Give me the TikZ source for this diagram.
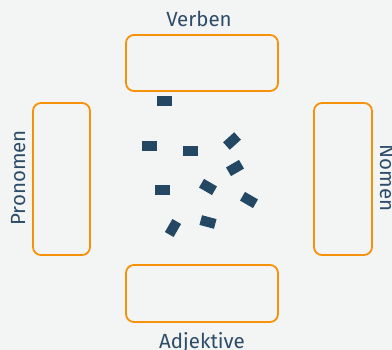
\documentclass[tikz,border=0pt]{standalone}
\usepackage{fontspec}
\setmainfont{Fira Sans}
\usetikzlibrary{positioning}
\definecolor{bgcol}{RGB}{243,244,244}
\definecolor{boxorange}{RGB}{246,146,10}
\definecolor{tilecol}{RGB}{36,72,99}
\definecolor{textcol}{RGB}{45,76,104}
\tikzset{
 box/.style
  = {rectangle, draw=boxorange, line width=1.8pt, rounded corners=8pt,
     inner sep=0pt},
 lbl/.style
  = {text=textcol, font=\fontsize{20.5}{22}\selectfont, inner sep=0pt, anchor=base},
 tile/.style
  = {rectangle, fill=tilecol, minimum width=15pt, minimum height=10pt, inner sep=0pt},
}
\begin{document}
\begin{tikzpicture}[x=1pt, y=-1pt]

% Background
\fill[bgcol] (0,0) rectangle (392,350);
\useasboundingbox (0,0) rectangle (392,350);

% Word class boxes
\node[box, minimum width=152pt, minimum height=56pt] (verben) at (202,63) {};
\node[box, minimum width=152pt, minimum height=57pt] (adjektive) at (202,293.5) {};
\node[box, minimum width=57pt, minimum height=152pt] (pronomen) at (61.5,179) {};
\node[box, minimum width=58pt, minimum height=152pt] (nomen) at (343,179) {};

% Box labels
\node[lbl] (verbenlbl) at (199,27) {Verben};
\node[lbl] (adjektivelbl) at (202,348.5) {Adjektive};
\node[lbl, rotate=90] (pronomenlbl) at (25,178) {Pronomen};
\node[lbl, rotate=-90] (nomenlbl) at (380,178) {Nomen};

% Scattered word tiles
\foreach \x/\y/\a [count=\i] in {164.5/101/0, 149.5/146/0, 190.5/151/0, 232/141/42,
    235/168/30, 162.5/190/0, 208/187/-30, 249/200/-30, 208/222/-15, 173/228/60}
  \node[tile, rotate=\a] (tile\i) at (\x,\y) {};

\end{tikzpicture}
\end{document}
